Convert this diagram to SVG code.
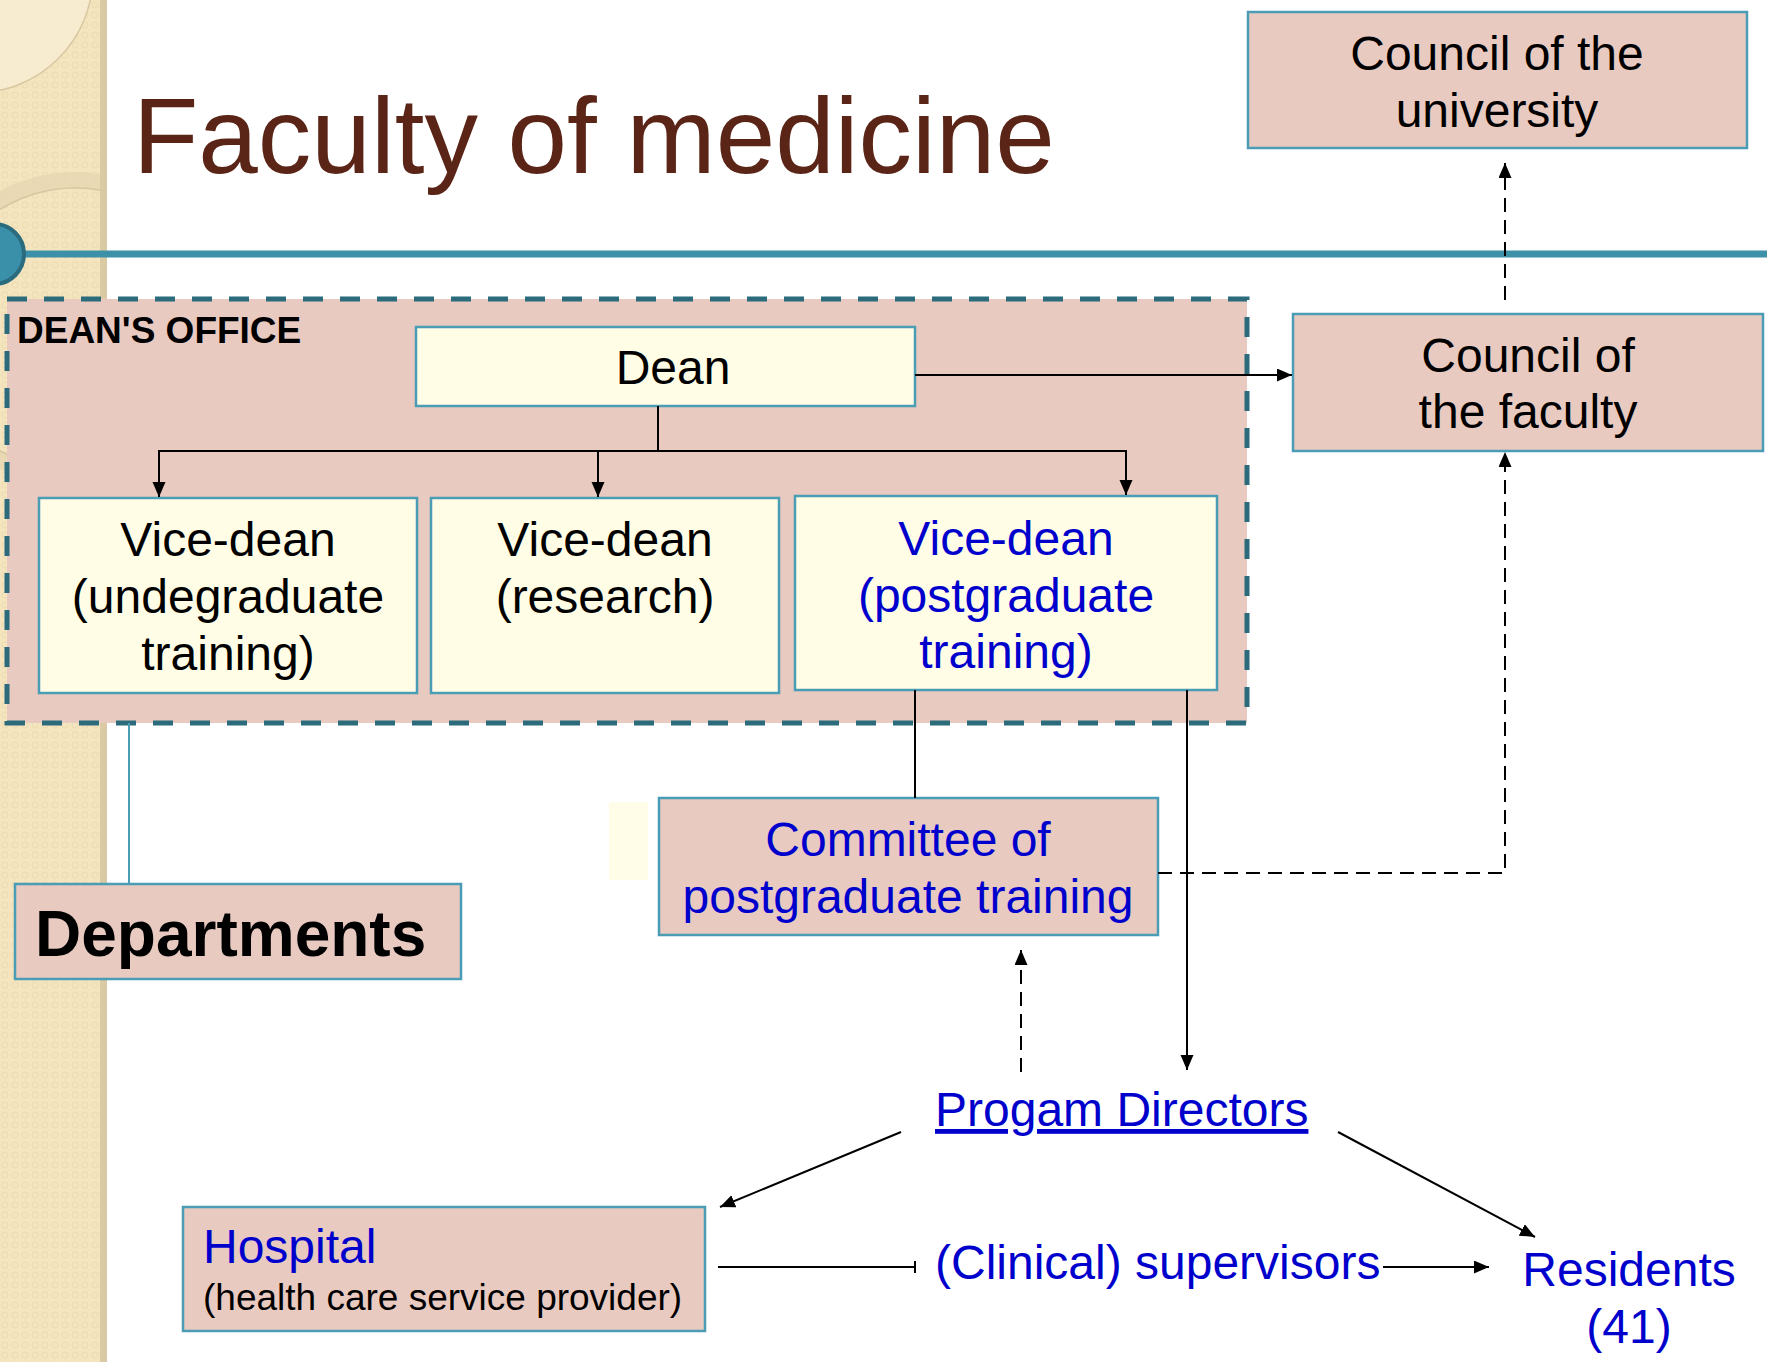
<svg xmlns="http://www.w3.org/2000/svg" width="1767" height="1362" viewBox="0 0 1767 1362">
<style>
.box{fill:#e9cac0;stroke:#4a9db5;stroke-width:2.5}
.ybox{fill:#fffde6;stroke:#4a9db5;stroke-width:2.5}
.t{font-family:"Liberation Sans",Arial,sans-serif;font-size:48px;fill:#000}
.c{text-anchor:middle}
.blue{fill:#0000cc}
.ln{fill:none;stroke:#000;stroke-width:2}
.dash{fill:none;stroke:#000;stroke-width:2;stroke-dasharray:14 8}
</style>
<defs>
<pattern id="dots" width="10" height="10" patternUnits="userSpaceOnUse">
<rect width="10" height="10" fill="#f4e5bf"/>
<circle cx="5" cy="5" r="3" fill="none" stroke="#eadbb2" stroke-width="1"/>
</pattern>
<clipPath id="sideclip"><rect x="0" y="0" width="101" height="1362"/></clipPath>
<marker id="ah" markerWidth="16" markerHeight="14" refX="15" refY="6.5" orient="auto" markerUnits="userSpaceOnUse">
<path d="M0,0 L15,6.5 L0,13 z" fill="#000"/>
</marker>
</defs>
<rect width="1767" height="1362" fill="#fff"/>
<g id="sidebar">
<rect x="0" y="0" width="101" height="1362" fill="url(#dots)"/>
<g clip-path="url(#sideclip)">
<circle cx="-25" cy="-25" r="118" fill="#f7edd3" fill-opacity="0.8" stroke="#d8c8a2" stroke-width="1.5"/>
<circle cx="75" cy="330" r="150" fill="none" stroke="#e6d7b2" stroke-width="16" opacity="0.85"/>
<circle cx="75" cy="330" r="142" fill="none" stroke="#cdbd98" stroke-width="1.5" opacity="0.7"/>
</g>
<rect x="100" y="0" width="7" height="1362" fill="#d9caa4"/>
</g>
<g id="title">
<text x="133" y="173" font-family="'Liberation Sans',Arial,sans-serif" font-size="107" fill="#5a2416">Faculty of medicine</text>
</g>
<g id="rule">
<rect x="0" y="250.5" width="1767" height="7" fill="#3c91a8"/>
<circle cx="-6" cy="254" r="30" fill="#3a90a8" stroke="#2a6b7e" stroke-width="4"/>
</g>
<g id="deans-office">
<rect x="7" y="299" width="1240" height="424" fill="#e9cac0" stroke="#2b6b7b" stroke-width="5" stroke-dasharray="20 17"/>
<text x="17" y="343" font-family="'Liberation Sans',Arial,sans-serif" font-size="37" font-weight="bold" fill="#000">DEAN'S OFFICE</text>
</g>
<g id="dean">
<rect class="ybox" x="416" y="327" width="499" height="79"/>
<text class="t c" x="673" y="384">Dean</text>
</g>
<g id="vd-undergrad">
<rect class="ybox" x="39" y="498" width="378" height="195"/>
<text class="t c" x="228" y="556">Vice-dean</text>
<text class="t c" x="228" y="613">(undegraduate</text>
<text class="t c" x="228" y="670">training)</text>
</g>
<g id="vd-research">
<rect class="ybox" x="431" y="498" width="348" height="195"/>
<text class="t c" x="605" y="556">Vice-dean</text>
<text class="t c" x="605" y="613">(research)</text>
</g>
<g id="vd-postgrad">
<rect class="ybox" x="795" y="496" width="422" height="194"/>
<text class="t c blue" x="1006" y="555">Vice-dean</text>
<text class="t c blue" x="1006" y="612">(postgraduate</text>
<text class="t c blue" x="1006" y="668">training)</text>
</g>
<g id="council-university">
<rect class="box" x="1248" y="12" width="499" height="136"/>
<text class="t c" x="1497" y="70">Council of the</text>
<text class="t c" x="1497" y="127">university</text>
</g>
<g id="council-faculty">
<rect class="box" x="1293" y="314" width="470" height="137"/>
<text class="t c" x="1528" y="372">Council of</text>
<text class="t c" x="1528" y="428">the faculty</text>
</g>
<g id="committee">
<rect x="609" y="802" width="39" height="78" fill="#fffde8"/>
<rect class="box" x="659" y="798" width="499" height="137"/>
<text class="t c blue" x="908" y="856">Committee of</text>
<text class="t c blue" x="908" y="913">postgraduate training</text>
</g>
<g id="departments">
<rect class="box" x="15" y="884" width="446" height="95"/>
<text x="35" y="956" font-family="'Liberation Sans',Arial,sans-serif" font-size="64" font-weight="bold" fill="#000">Departments</text>
</g>
<g id="program-directors">
<text class="t blue" x="935" y="1126" text-decoration="underline">Progam Directors</text>
</g>
<g id="hospital">
<rect class="box" x="183" y="1207" width="522" height="124"/>
<text class="t blue" x="203" y="1263">Hospital</text>
<text x="203" y="1310" font-family="'Liberation Sans',Arial,sans-serif" font-size="37" fill="#000">(health care service provider)</text>
</g>
<g id="supervisors">
<text class="t blue" x="935" y="1279">(Clinical) supervisors</text>
</g>
<g id="residents">
<text class="t c blue" x="1629" y="1286">Residents</text>
<text class="t c blue" x="1629" y="1343">(41)</text>
</g>
<g id="connectors">
<path class="ln" d="M915,375 H1292" marker-end="url(#ah)"/>
<path class="ln" d="M658,406 V451 H159 V497" marker-end="url(#ah)"/>
<path class="ln" d="M598,451 V497" marker-end="url(#ah)"/>
<path class="ln" d="M658,451 H1126 V495" marker-end="url(#ah)"/>
<path class="ln" d="M915,690 V798"/>
<path class="ln" d="M1187,690 V1070" marker-end="url(#ah)"/>
<path class="dash" d="M1158,873 H1505 V452" marker-end="url(#ah)"/>
<path class="dash" d="M1505,300 V163" marker-end="url(#ah)"/>
<path class="dash" d="M1021,1072 V950" marker-end="url(#ah)"/>
<path class="ln" d="M901,1132 L720,1207" marker-end="url(#ah)"/>
<path class="ln" d="M1338,1132 L1535,1237" marker-end="url(#ah)"/>
<path class="ln" d="M718,1267 H915 M915,1261 V1273" stroke-width="2.5"/>
<path class="ln" d="M1383,1267 H1489" stroke-width="2.5" marker-end="url(#ah)"/>
<path d="M129,723 V884" fill="none" stroke="#4a9db5" stroke-width="2"/>
</g>
</svg>
